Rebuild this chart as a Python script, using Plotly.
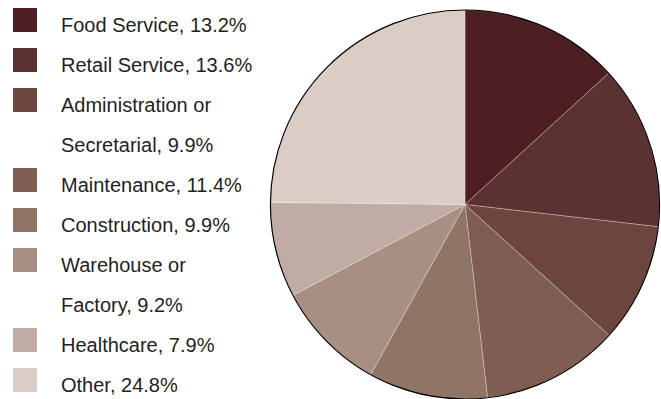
import plotly.graph_objects as go

# Occupation shares (percent); "\n" marks where a legend label wraps
categories = [
    "Food Service",
    "Retail Service",
    "Administration or\nSecretarial",
    "Maintenance",
    "Construction",
    "Warehouse or\nFactory",
    "Healthcare",
    "Other",
]
shares = [13.2, 13.6, 9.9, 11.4, 9.9, 9.2, 7.9, 24.8]
colors = [
    "#4D1F23", "#5C3230", "#6C463E", "#7E5E52",
    "#907567", "#A88F83", "#C0ACA2", "#DACDC6",
]

W, H = 661, 399
pie_domain = dict(x=[270 / W, 660 / W], y=[0.0, 1 - 10 / H])

fig = go.Figure()

fig.add_trace(go.Pie(
    labels=[c.replace("\n", " ") for c in categories],
    values=shares,
    marker=dict(colors=colors, line=dict(color="rgba(255,255,255,0.35)", width=0.8)),
    sort=False,
    direction="clockwise",
    rotation=0,
    textinfo="none",
    hoverinfo="label+percent",
    showlegend=False,
    domain=pie_domain,
))

# thin dark rim around the whole pie
fig.add_trace(go.Pie(
    labels=["rim"],
    values=[1],
    marker=dict(colors=["rgba(0,0,0,0)"], line=dict(color="#000000", width=1.2)),
    textinfo="none",
    hoverinfo="skip",
    showlegend=False,
    domain=pie_domain,
))

# hand-laid legend: one 40px row per text line
row_h = 40
top = 8
sq = 24
shapes = []
annotations = []
row = 0
for cat, val, col in zip(categories, shares, colors):
    lines = f"{cat}, {val}%".split("\n")
    y0 = top + row * row_h
    shapes.append(dict(
        type="rect", xref="paper", yref="paper",
        x0=13 / W, x1=(13 + sq) / W,
        y0=1 - (y0 + sq) / H, y1=1 - y0 / H,
        fillcolor=col, line=dict(width=0),
    ))
    for ln in lines:
        yc = top + row * row_h + 17
        annotations.append(dict(
            text=ln, xref="paper", yref="paper",
            x=59 / W, y=1 - yc / H, xanchor="left", yanchor="middle",
            showarrow=False,
            font=dict(family="Liberation Sans, Arial, sans-serif", size=20, color="#231F20"),
        ))
        row += 1

fig.update_layout(
    width=W, height=H,
    margin=dict(l=0, r=0, t=0, b=0),
    paper_bgcolor="white",
    plot_bgcolor="white",
    shapes=shapes,
    annotations=annotations,
)

fig.write_html("out.html")
